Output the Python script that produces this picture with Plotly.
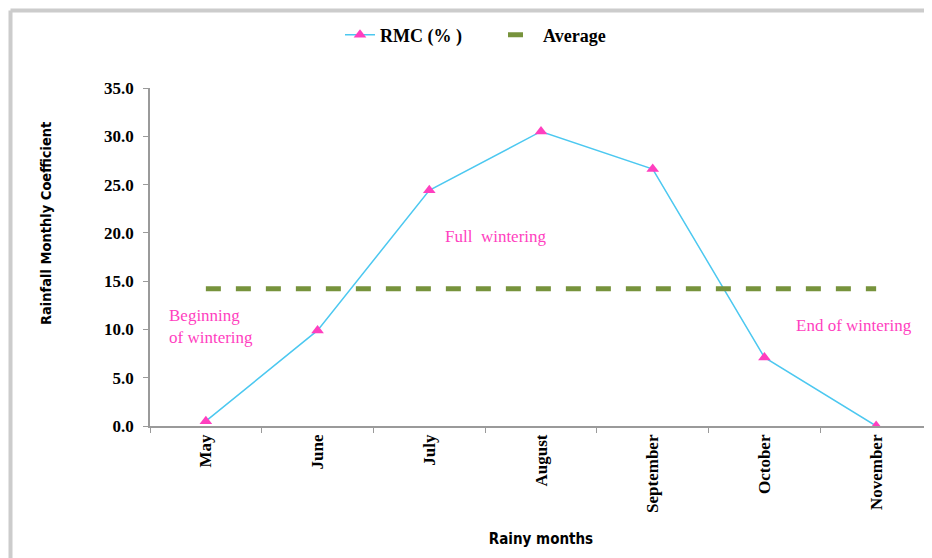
import plotly.graph_objects as go

months = ["May", "June", "July", "August", "September", "October", "November"]
rmc = [0.5, 9.9, 24.4, 30.5, 26.6, 7.1, 0.0]
average = [14.2] * len(months)
y_ticks = [0, 5, 10, 15, 20, 25, 30, 35]

# page body has an 8px margin, so the figure is drawn 8px smaller and shifted
OFF = 8
W, H = 932 - OFF, 558 - OFF
L, R, T, B = 150 - OFF, 0, 88 - OFF, 558 - 426
pw, ph = W - L - R, H - T - B

fig = go.Figure()
fig.add_trace(go.Scatter(
    x=months, y=rmc, name="<b>RMC (% )</b>", mode="lines+markers",
    line=dict(color="#4CC8F0", width=1.5),
    marker=dict(symbol="triangle-up", size=11, color="#FF3FBF"),
))
fig.add_trace(go.Scatter(
    x=months, y=average, name="<b>Average</b>", mode="lines",
    line=dict(color="#77933C", width=5, dash="dash"),
))

serif = "Liberation Serif"
sans = "DejaVu Sans Condensed"
fig.update_layout(
    width=W, height=H,
    margin=dict(l=L, r=R, t=T, b=B),
    plot_bgcolor="white", paper_bgcolor="white",
    showlegend=True,
    legend=dict(orientation="h", x=(340 - 150) / pw, xanchor="left",
                y=1 + (88 - 35) / ph, yanchor="middle", entrywidth=118,
                font=dict(family=serif, size=18, color="black")),
    xaxis=dict(
        type="category", range=[-0.5, 6.5], showline=True, linecolor="#9a9a9a", linewidth=1.5,
        ticks="outside", ticklen=5, tickcolor="#9a9a9a", tickson="boundaries",
        tickvals=months, ticktext=[f"<b>{m}</b>" for m in months],
        tickangle=-90, tickfont=dict(family=serif, size=17, color="black"),
        showgrid=False, zeroline=False,
        title=dict(text="<b>Rainy months</b>", font=dict(family=sans, size=15, color="black"), standoff=22),
    ),
    yaxis=dict(
        range=[0, 35], tickvals=y_ticks, ticktext=[f"<b>{v:.1f}</b>" for v in y_ticks],
        showline=True, linecolor="#9a9a9a", linewidth=1.5,
        ticks="outside", ticklen=5, tickcolor="#9a9a9a", ticklabelstandoff=6,
        tickfont=dict(family=serif, size=17, color="black"),
        showgrid=False, zeroline=False,
    ),
)

# y-axis title (placed as in the reference, slightly above the plot centre)
fig.add_annotation(xref="paper", yref="paper", x=(36 - 150) / pw, y=1 - (224 - 88) / ph,
                   text="<b>Rainfall Monthly Coefficient</b>", textangle=-90, showarrow=False,
                   font=dict(family=sans, size=14.5, color="black"))

pink = "#FF3FBF"
fig.add_annotation(x=2.6, y=19.6, text="Full  wintering", showarrow=False,
                   font=dict(family=serif, size=17, color=pink))
fig.add_annotation(x=-0.35, y=10.3, text="Beginning<br>of wintering", showarrow=False, xanchor="left",
                   align="left", font=dict(family=serif, size=17, color=pink))
fig.add_annotation(x=5.8, y=10.4, text="End of wintering", showarrow=False,
                   font=dict(family=serif, size=17, color=pink))

# outer frame (gray border at top and left)
bx = (10.5 - 150) / pw
by = 1 + (88 - 10.5) / ph
fig.add_shape(type="line", xref="paper", yref="paper", x0=bx, x1=1.05, y0=by, y1=by,
              line=dict(color="#cccccc", width=4))
fig.add_shape(type="line", xref="paper", yref="paper", x0=bx, x1=bx, y0=by, y1=-0.5,
              line=dict(color="#cccccc", width=4))

fig.write_html("out.html")
